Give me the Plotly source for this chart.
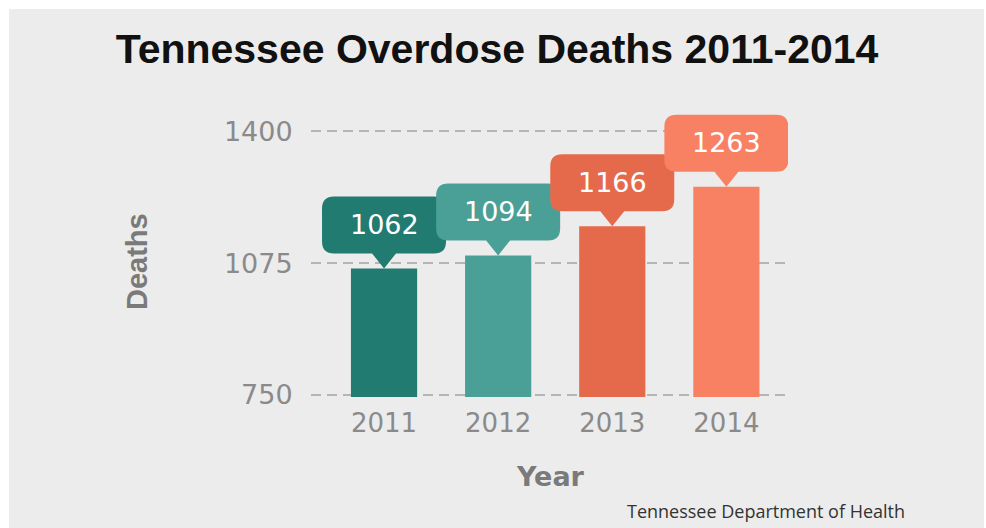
import plotly.graph_objects as go

years = ["2011", "2012", "2013", "2014"]
deaths = [1062, 1094, 1166, 1263]
bar_colors = ["#217b70", "#4aa096", "#e56a4c", "#f98163"]
y_ticks = [750, 1075, 1400]
y_tick_labels = ["750", "1075", "1400"]

W, H = 986, 528
L, R, T, B = 311, 198, 111, 131
pw, ph = W - L - R, H - T - B

def px_to_paper_x(px):
    return (px - L) / pw

def px_to_paper_y(py):
    return (H - B - py) / ph

fig = go.Figure()
fig.add_trace(go.Bar(
    x=list(range(len(years))), y=deaths,
    marker=dict(color=bar_colors, line=dict(width=0)),
    width=0.58, hoverinfo="skip",
))

callout = ("M 0,0 L -12,15 L -50,15 Q -62,15 -62,27 L -62,60 Q -62,72 -50,72 "
           "L 50,72 Q 62,72 62,60 L 62,27 Q 62,15 50,15 L 12,15 Z")

shapes = [dict(type="rect", xref="paper", yref="paper",
               x0=px_to_paper_x(9), x1=px_to_paper_x(984),
               y0=px_to_paper_y(528), y1=px_to_paper_y(9),
               fillcolor="#ececec", line=dict(width=0), layer="below")]
annotations = []
for i, (v, c) in enumerate(zip(deaths, bar_colors)):
    shapes.append(dict(type="path", xref="x", yref="y",
                       xsizemode="pixel", ysizemode="pixel",
                       xanchor=i, yanchor=v, path=callout,
                       fillcolor=c, line=dict(width=0), layer="above"))
    annotations.append(dict(x=i, y=v, xref="x", yref="y", text=str(v),
                            showarrow=False, yshift=44,
                            font=dict(family="DejaVu Sans", size=27, color="white")))

annotations.append(dict(x=px_to_paper_x(137), y=px_to_paper_y(262), xref="paper", yref="paper",
                        text="<b>Deaths</b>", textangle=-90, showarrow=False,
                        xanchor="center", yanchor="middle",
                        font=dict(family="Liberation Sans", size=29, color="#7a7a7a")))
annotations.append(dict(x=px_to_paper_x(550), y=px_to_paper_y(476), xref="paper", yref="paper",
                        text="<b>Year</b>", showarrow=False,
                        xanchor="center", yanchor="middle",
                        font=dict(family="DejaVu Sans", size=27, color="#7a7a7a")))
annotations.append(dict(x=px_to_paper_x(907), y=px_to_paper_y(511), xref="paper", yref="paper",
                        text="Tennessee Department of Health", showarrow=False,
                        xanchor="right", yanchor="middle",
                        font=dict(family="Open Sans", size=18, color="#333333")))

fig.update_layout(
    width=W, height=H, autosize=False,
    margin=dict(l=L, r=R, t=T, b=B, pad=0),
    paper_bgcolor="white", plot_bgcolor="rgba(0,0,0,0)",
    showlegend=False, shapes=shapes, annotations=annotations,
    title=dict(text="<b>Tennessee Overdose Deaths 2011-2014</b>",
               x=497 / W, y=1 - 49 / H, xref="container", yref="container",
               xanchor="center", yanchor="middle",
               font=dict(family="Liberation Sans", size=41, color="#111111")),
    xaxis=dict(range=[-0.64, 3.54], tickvals=list(range(len(years))), ticktext=years,
               showgrid=False, zeroline=False, showline=False,
               ticks="outside", ticklen=3, tickcolor="rgba(0,0,0,0)",
               tickfont=dict(family="DejaVu Sans", size=26, color="#8a8a8a"),
               fixedrange=True),
    yaxis=dict(range=[745, 1450], tickvals=y_ticks, ticktext=y_tick_labels,
               showgrid=True, gridcolor="#b5b5b5", gridwidth=2, griddash="10px,6px",
               zeroline=False, showline=False,
               ticks="outside", ticklen=12, tickcolor="rgba(0,0,0,0)",
               tickfont=dict(family="DejaVu Sans", size=27, color="#8a8a8a"),
               fixedrange=True),
)

fig.write_html("out.html")
